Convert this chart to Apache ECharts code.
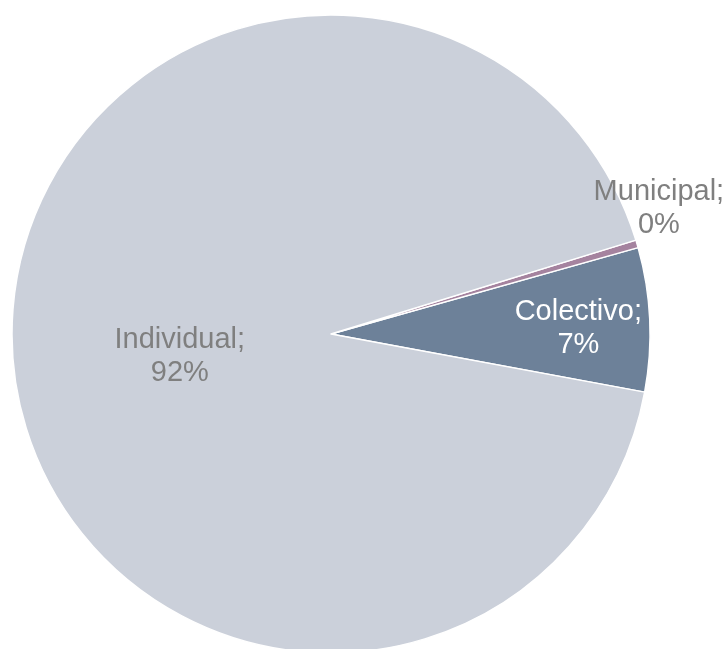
<!DOCTYPE html>
<html>
<head>
<meta charset="utf-8">
<script src="https://cdn.jsdelivr.net/npm/echarts@6/dist/echarts.min.js"></script>
<style>html,body{margin:0;padding:0;background:#fff}#c{width:727px;height:649px}</style>
</head>
<body>
<div id="c"></div>
<script>
const categories = ['Colectivo', 'Municipal', 'Individual'];
const values = [7.28, 0.39, 92.33];
const colors = ['#6D8199', '#A5839F', '#CBD0DA'];
const labelColors = ['#FFFFFF', '#7F7F7F', '#7F7F7F'];
const labelShift = [[85, 2], [172, -80], [11, 13]];

const total = values.reduce((a, b) => a + b, 0);
const chart = echarts.init(document.getElementById('c'), null, {renderer: 'canvas'});
chart.setOption({
  animation: false,
  series: [{
    type: 'pie',
    center: [331, 334],
    radius: 319,
    startAngle: -10.5,
    clockwise: false,
    avoidLabelOverlap: false,
    itemStyle: {borderColor: '#fff', borderWidth: 1.5},
    label: {
      position: 'inside',
      fontFamily: 'Liberation Sans, Arial, sans-serif',
      fontSize: 29,
      lineHeight: 33,
      align: 'center',
      formatter: p => p.name + ';\n' + Math.round(p.value / total * 100) + '%'
    },
    labelLine: {show: false},
    labelLayout: p => ({dx: labelShift[p.dataIndex][0], dy: labelShift[p.dataIndex][1]}),
    emphasis: {disabled: true},
    data: categories.map((c, i) => ({
      name: c,
      value: values[i],
      itemStyle: {color: colors[i]},
      label: {color: labelColors[i]}
    }))
  }]
});
</script>
</body>
</html>
